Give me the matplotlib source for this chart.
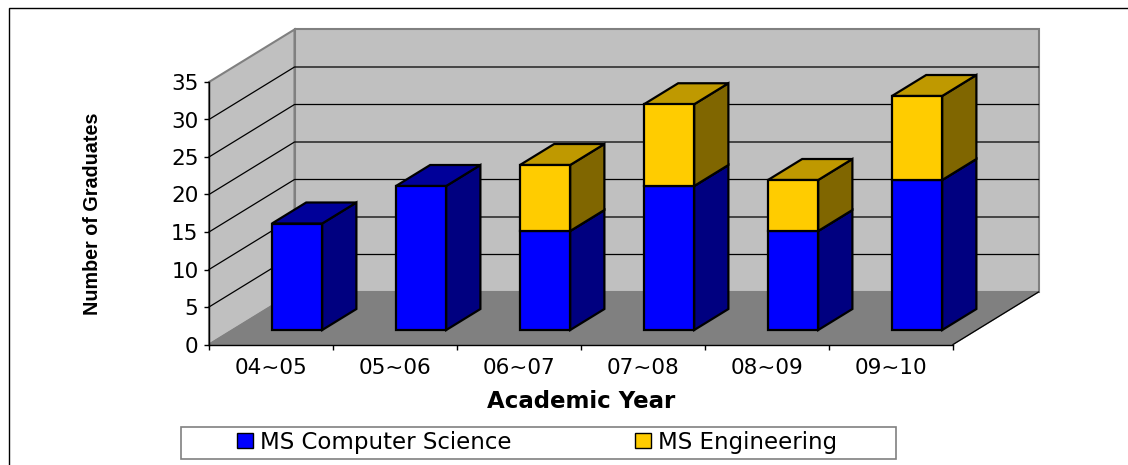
import matplotlib
matplotlib.use("Agg")
import matplotlib.pyplot as plt
from matplotlib.patches import Polygon, Patch, Rectangle

years = ['04~05', '05~06', '06~07', '07~08', '08~09', '09~10']
cs_grads = [14.2, 19.2, 13.2, 19.2, 13.2, 20.0]
eng_grads = [0, 0, 8.8, 10.9, 6.8, 11.2]
y_ticks = [0, 5, 10, 15, 20, 25, 30, 35]

W, H = 1128, 465
plt.rcParams['font.family'] = ['DejaVu Sans']

fig = plt.figure(figsize=(W / 100, H / 100), dpi=100)
# front plane of the fake 3d box
ax = fig.add_axes([209 / W, 1 - 344.5 / H, 744 / W, 262.5 / H])
ax.set_xlim(0, 6)
ax.set_ylim(0, 35)
ax.patch.set_visible(False)


# oblique projection, d goes from 0 (front) to 1 (back wall)
def proj(x, y, d):
    return (x + d * 85.5 / 124, y + d * 7.0)


def face(pts, fc, ec='black', lw=1.6, z=2):
    ax.add_patch(Polygon([proj(*p) for p in pts], closed=True, facecolor=fc, edgecolor=ec,
                         linewidth=lw, zorder=z, clip_on=False, joinstyle='miter'))


# walls and floor
face([(0, 0, 1), (6, 0, 1), (6, 35, 1), (0, 35, 1)], '#c0c0c0', '#808080', 1.5, 1)
face([(0, 0, 0), (0, 0, 1), (0, 35, 1), (0, 35, 0)], '#c0c0c0', '#808080', 1.5, 1)
face([(0, 0, 0), (6, 0, 0), (6, 0, 1), (0, 0, 1)], '#808080', '#808080', 1, 1)

# gridlines on back and side wall
for v in y_ticks[1:-1]:
    pts = [proj(0, v, 0), proj(0, v, 1), proj(6, v, 1)]
    ax.plot([p[0] for p in pts], [p[1] for p in pts], color='black', lw=0.9, zorder=1.5, clip_on=False)
pts = [proj(6, 0, 0), proj(6, 0, 1)]
ax.plot([p[0] for p in pts], [p[1] for p in pts], color='black', lw=0.9, zorder=1.5, clip_on=False)


# one stacked block of a bar
def block(i, bottom, top, front, side, cap):
    x0 = i + 0.52 - 0.2025
    x1 = x0 + 0.405
    d0, d1 = 0.276, 0.676
    face([(x1, bottom, d0), (x1, bottom, d1), (x1, top, d1), (x1, top, d0)], side)
    face([(x0, top, d0), (x1, top, d0), (x1, top, d1), (x0, top, d1)], cap)
    face([(x0, bottom, d0), (x1, bottom, d0), (x1, top, d0), (x0, top, d0)], front)


for i in range(len(years)):
    block(i, 0, cs_grads[i], '#0000ff', '#000080', '#000099')
    if eng_grads[i] > 0:
        block(i, cs_grads[i], cs_grads[i] + eng_grads[i], '#ffcc00', '#806600', '#bf9900')

# axes
for s in ['top', 'right']:
    ax.spines[s].set_visible(False)
for s in ['left', 'bottom']:
    ax.spines[s].set_linewidth(1.0)
    ax.spines[s].set_zorder(3)
ax.set_yticks(y_ticks)
ax.set_xticks(range(7))
ax.set_xticklabels([])
ax.tick_params(axis='both', length=3.6, width=1.0, labelsize=15.5, pad=4)
for i, yr in enumerate(years):
    ax.annotate(yr, (i + 0.5, 0), xytext=(0, -13), textcoords='offset pixels', ha='center', va='top', fontsize=15.5)

fig.text(581 / W, 1 - 401 / H, 'Academic Year', ha='center', va='center', fontsize=16.5, fontweight='bold')
fig.text(93 / W, 1 - 214 / H, 'Number of Graduates', ha='center', va='center', rotation=90,
         fontsize=14.2, fontweight='bold', family=['Liberation Sans'])

# outer frame runs off the right and bottom edges
fig.add_artist(Rectangle((9 / W, -0.05), 1.1, 1 - 8 / H + 0.05, transform=fig.transFigure,
                         facecolor='none', edgecolor='black', linewidth=1.0))

# legend box is drawn on its own so the entries can sit where they sit in the original
fig.add_artist(Rectangle((181 / W, 1 - 459 / H), 715 / W, 32 / H, transform=fig.transFigure,
                         facecolor='white', edgecolor='#808080', linewidth=1.2))
handles = [Patch(facecolor='#0000ff', edgecolor='black', label='MS Computer Science'),
           Patch(facecolor='#ffcc00', edgecolor='black', label='MS Engineering')]
fig.legend(handles=handles, ncol=2, loc='center left', bbox_to_anchor=(237 / W, 1 - 442 / H),
           borderaxespad=0, borderpad=0, fontsize=16.5, frameon=False,
           handlelength=0.68, handleheight=0.68, handletextpad=0.32, columnspacing=5.4)

fig.savefig('out.png', dpi=100)
